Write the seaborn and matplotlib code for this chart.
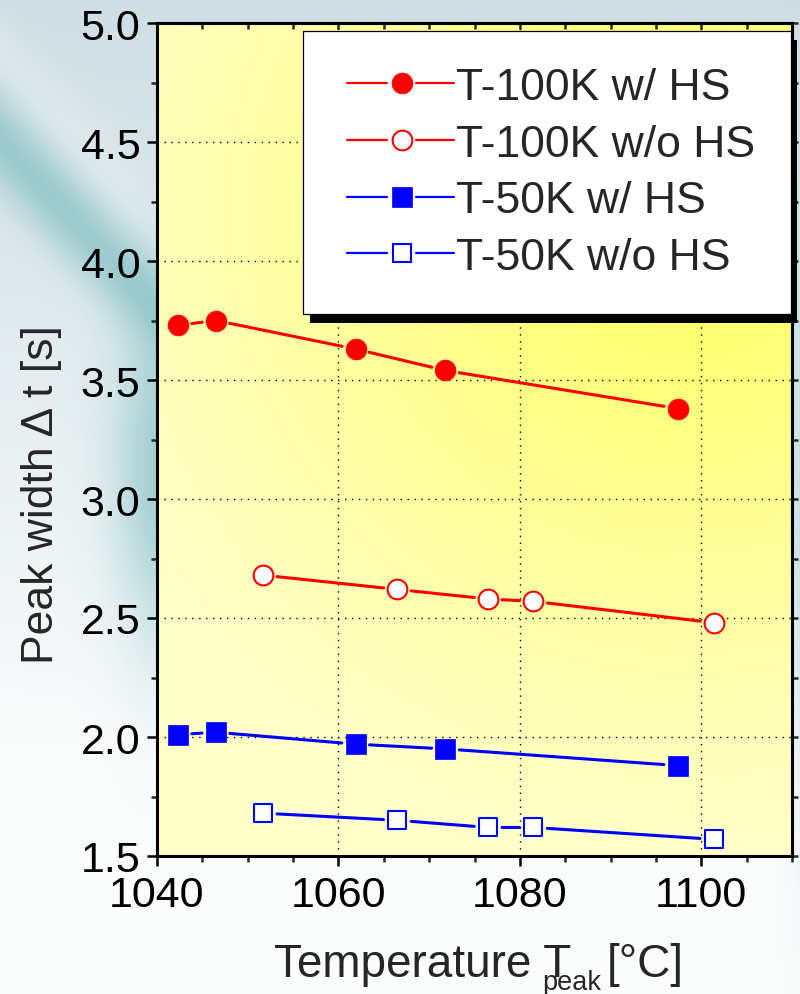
import numpy as np
import pandas as pd
import matplotlib
matplotlib.use("Agg")
import matplotlib.pyplot as plt
import matplotlib.patheffects as pe
from matplotlib.lines import Line2D
from matplotlib.legend_handler import HandlerBase
from matplotlib.ticker import MultipleLocator
import seaborn as sns

# ---- data -------------------------------------------------------------
temp_hs = [1042.3, 1046.5, 1061.9, 1071.8, 1097.4]      # runs with HS
temp_nohs = [1051.7, 1066.5, 1076.5, 1081.5, 1101.4]    # runs without HS
width_100k_hs = [3.73, 3.75, 3.63, 3.54, 3.38]
width_100k_nohs = [2.68, 2.62, 2.58, 2.57, 2.48]
width_50k_hs = [2.01, 2.02, 1.97, 1.95, 1.88]
width_50k_nohs = [1.68, 1.65, 1.62, 1.62, 1.57]
series_labels = ["T-100K w/ HS", "T-100K w/o HS", "T-50K w/ HS", "T-50K w/o HS"]
x_ticks = [1040, 1060, 1080, 1100]
y_ticks = [1.5, 2.0, 2.5, 3.0, 3.5, 4.0, 4.5, 5.0]

df = pd.concat([
    pd.DataFrame({"T": temp_hs, "width": width_100k_hs, "series": series_labels[0]}),
    pd.DataFrame({"T": temp_nohs, "width": width_100k_nohs, "series": series_labels[1]}),
    pd.DataFrame({"T": temp_hs, "width": width_50k_hs, "series": series_labels[2]}),
    pd.DataFrame({"T": temp_nohs, "width": width_50k_nohs, "series": series_labels[3]}),
], ignore_index=True)

RED, BLUE = "#ff0000", "#0000ff"
styles = {
    series_labels[0]: dict(color=RED, marker="o", face=RED, s=15.0),
    series_labels[1]: dict(color=RED, marker="o", face="white", s=14.2),
    series_labels[2]: dict(color=BLUE, marker="s", face=BLUE, s=14.0),
    series_labels[3]: dict(color=BLUE, marker="s", face="white", s=13.2),
}

# ---- style ------------------------------------------------------------
sns.set_style("ticks")
plt.rcParams["font.family"] = ["Liberation Sans", "DejaVu Sans"]
plt.rcParams["axes.linewidth"] = 2.2

W, H = 800, 995
fig = plt.figure(figsize=(W / 100, H / 100), dpi=100)

# slide-like backdrop behind the chart
yy, xx = np.mgrid[0:H, 0:W].astype(float)
s = np.clip(yy / 760.0, 0, 1)[..., None]
img = np.array([0.81, 0.87, 0.89]) * (1 - s) + np.array([0.985, 0.99, 0.99]) * s


def seg_dist(x0, y0, x1, y1):
    dx, dy = x1 - x0, y1 - y0
    t = np.clip(((xx - x0) * dx + (yy - y0) * dy) / (dx * dx + dy * dy), 0, 1)
    return np.hypot(xx - (x0 + t * dx), yy - (y0 + t * dy))


def blend(img, col, w):
    w = w[..., None]
    return img * (1 - w) + np.array(col) * w


teal = [0.53, 0.76, 0.77]
img = blend(img, [0.95, 0.97, 0.97], 0.35 * np.exp(-(seg_dist(-20, 40, 170, 250) / 30) ** 2))
img = blend(img, teal, 0.75 * np.exp(-(seg_dist(-20, 120, 175, 330) / 34) ** 2))
img = blend(img, teal, 0.75 * np.exp(-((xx - 165) / 50) ** 2 - ((yy - 470) / 170) ** 2))
img = blend(img, teal, 0.5 * np.exp(-((xx - 815) / 25) ** 2 - ((yy - 520) / 300) ** 2))
bg = fig.add_axes([0, 0, 1, 1], zorder=-10)
bg.imshow(np.clip(img, 0, 1), aspect="auto", interpolation="bilinear")
bg.set_axis_off()

# ---- main axes --------------------------------------------------------
ax = fig.add_axes([157 / W, (H - 857) / H, 635 / W, 833 / H])
ax.set_facecolor("none")
xlim, ylim = (1040, 1110), (1.5, 5.0)

# yellow gradient panel
ph, pw = 833, 635
gy, gx = np.mgrid[0:ph, 0:pw].astype(float)
d = np.hypot(gx - 530, gy - 190)
t = np.clip(1 - d / 650.0, 0, 1) ** 1.15
light = np.array([1.0, 1.0, 0.79])
bright = np.array([1.0, 1.0, 0.36])
panel = light + (bright - light) * t[..., None]
ax.imshow(panel, extent=(*xlim, *ylim), aspect="auto", origin="upper",
          interpolation="bilinear", zorder=0)

# connecting segments, stopping short of each marker
for name, st in styles.items():
    sub = df[df["series"] == name]
    xs, ys = sub["T"].to_numpy(), sub["width"].to_numpy()
    for i in range(len(xs) - 1):
        ax.annotate("", xy=(xs[i + 1], ys[i + 1]), xytext=(xs[i], ys[i]),
                    xycoords="data", textcoords="data",
                    arrowprops=dict(arrowstyle="-", color=st["color"], lw=2.2,
                                    shrinkA=10, shrinkB=10), zorder=3)

# markers
for name, st in styles.items():
    sub = df[df["series"] == name]
    sns.scatterplot(data=sub, x="T", y="width", ax=ax, marker=st["marker"],
                    s=st["s"] ** 2, facecolor=st["face"], edgecolor=st["color"],
                    linewidth=1.5 if st["face"] == "white" else 0.5,
                    legend=False, zorder=4)

ax.set_xlim(*xlim)
ax.set_ylim(*ylim)
ax.set_xticks(x_ticks)
ax.set_yticks(y_ticks)
ax.set_yticklabels([f"{v:.1f}" for v in y_ticks])
ax.xaxis.set_minor_locator(MultipleLocator(5))
ax.yaxis.set_minor_locator(MultipleLocator(0.25))
ax.tick_params(axis="both", which="major", direction="out", length=7, width=1.8,
               labelsize=31, colors="black", top=False, right=False)
ax.tick_params(axis="both", which="minor", direction="out", length=4, width=1.8,
               top=False, right=False)
ax.tick_params(axis="x", which="major", pad=7)
ax.tick_params(axis="y", which="major", pad=5)
for sp in ax.spines.values():
    sp.set_visible(True)
    sp.set_linewidth(2.2)
    sp.set_color("black")

# grid
ax.set_axisbelow(True)
ax.grid(True, which="major", color="black", linestyle=(0, (1, 4)), linewidth=1.0)

# mirrored ticks: inward on top, outward on right
top = ax.secondary_xaxis("top")
top.xaxis.set_major_locator(MultipleLocator(5))
top.tick_params(direction="in", length=4.5, width=1.8, labeltop=False)
top.spines["top"].set_linewidth(2.2)
right = ax.secondary_yaxis("right")
right.yaxis.set_major_locator(MultipleLocator(0.25))
right.tick_params(direction="out", length=4, width=1.8, labelright=False)
right.spines["right"].set_linewidth(2.2)

# axis labels
ax.set_xlabel("")
ax.set_ylabel("Peak width \u0394 t [s]", fontsize=32)
ax.yaxis.set_label_coords(-0.150, 0.435)
xl = ax.text(0.184, -0.144, "Temperature T", transform=ax.transAxes,
             ha="left", va="baseline", fontsize=33)
xsub = ax.annotate("peak", xy=(1, 0), xycoords=xl, xytext=(-21, -2.5),
                   textcoords="offset points", ha="left", va="baseline", fontsize=19.5)
ax.annotate("[\u00b0C]", xy=(1, 0), xycoords=(xsub, xl), xytext=(4, 0),
            textcoords="offset points", ha="left", va="bottom", fontsize=33)


# legend: line - marker - line
class GapHandler(HandlerBase):
    def create_artists(self, legend, orig_handle, xdescent, ydescent, width,
                       height, fontsize, trans):
        y = height / 2 - ydescent
        x0 = -xdescent
        col = orig_handle.get_color()
        l1 = Line2D([x0 + 0.07 * width, x0 + 0.42 * width], [y, y], color=col, lw=1.6)
        l2 = Line2D([x0 + 0.667 * width, x0 + width], [y, y], color=col, lw=1.6)
        mk = Line2D([x0 + 0.545 * width], [y], marker=orig_handle.get_marker(),
                    markersize=orig_handle.get_markersize(),
                    markerfacecolor=orig_handle.get_markerfacecolor(),
                    markeredgecolor=col, markeredgewidth=orig_handle.get_markeredgewidth(),
                    linestyle="none")
        for a in (l1, l2, mk):
            a.set_transform(trans)
        return [l1, l2, mk]


handles = []
for name, st in styles.items():
    handles.append(Line2D([], [], color=st["color"], marker=st["marker"],
                          markersize=st["s"], markerfacecolor=st["face"],
                          markeredgewidth=1.5 if st["face"] == "white" else 0.5))
leg = ax.legend(handles, series_labels, loc="upper right",
                bbox_to_anchor=(0.9984, 0.9904), borderaxespad=0, fontsize=32,
                frameon=True, fancybox=False, framealpha=1, edgecolor="black",
                borderpad=0.81, labelspacing=0.35, handlelength=2.57,
                handletextpad=0.05, handler_map={Line2D: GapHandler()})
leg.get_frame().set_linewidth(0.9)
leg.get_frame().set_path_effects([
    pe.SimplePatchShadow(offset=(4.5, -6.5), shadow_rgbFace="black", alpha=1.0),
    pe.Normal(),
])
leg.set_zorder(6)

fig.savefig("out.png", dpi=100)
